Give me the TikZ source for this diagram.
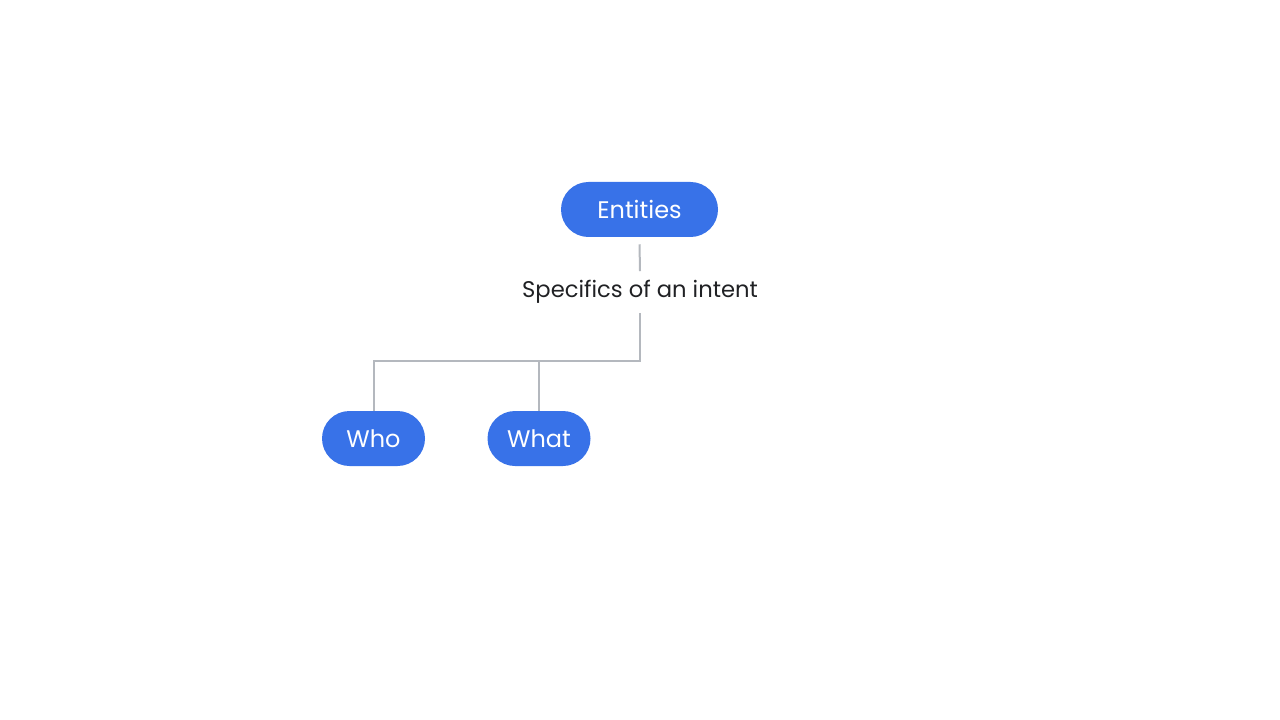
\documentclass[tikz,border=0pt]{standalone}
\usepackage{fontspec}
\setmainfont{Poppins}
\definecolor{pillblue}{RGB}{56,114,232}
\definecolor{linegray}{RGB}{180,184,190}
\definecolor{txt}{RGB}{32,33,36}
\begin{document}
\begin{tikzpicture}[x=0.75pt,y=-0.75pt,
  pill/.style={draw=none,fill=pillblue,rounded corners=20.6pt,text=white,
    minimum height=41.25pt,inner sep=0pt,font=\fontsize{18}{20}\selectfont},
  lbl/.style={text=txt,inner sep=0pt,minimum height=33.75pt,font=\fontsize{17}{20}\selectfont},
  conn/.style={draw=linegray,line width=1.5pt}]
\useasboundingbox (0,0) rectangle (1280,720);
\node[pill,minimum width=117.75pt] (e) at (639.5,209.5) {Entities};
\node[lbl] (s) at (640,292) {Specifics of an intent};
\node[pill,minimum width=77.25pt] (who) at (373.5,438.5) {Who};
\node[pill,minimum width=77.25pt] (what) at (539,438.5) {What};
\coordinate (j) at (640,361);
\draw[conn] ([yshift=-5.25pt]e.south) -- ([yshift=-1.5pt]s.north);
\draw[conn] ([yshift=1.5pt]s.south) -- (j) -| (who.north);
\draw[conn] (what.north) -- (what.north |- j);
\end{tikzpicture}
\end{document}
